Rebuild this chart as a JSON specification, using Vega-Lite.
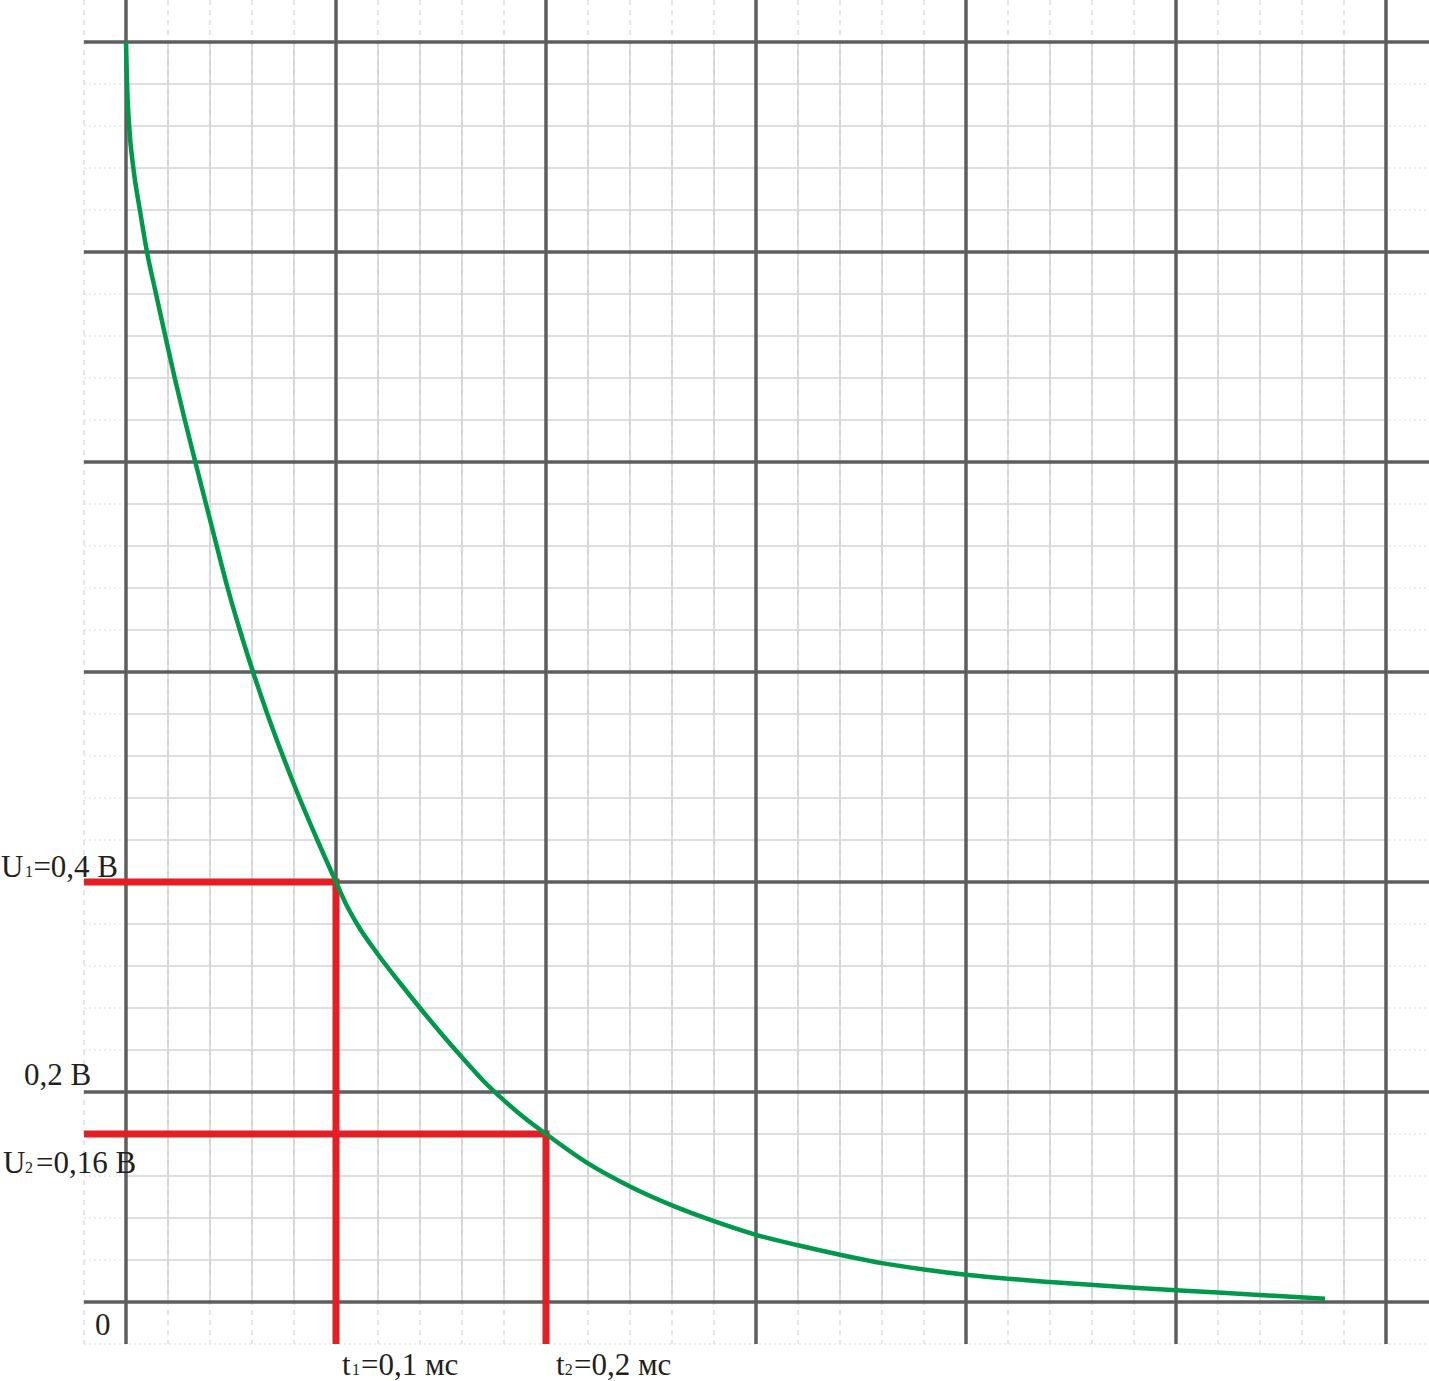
{
  "$schema": "https://vega.github.io/schema/vega-lite/v6.json",
  "width": 1429,
  "height": 1381,
  "autosize": {"type": "none"},
  "padding": 0,
  "background": "white",
  "config": {"view": {"stroke": null}},
  "datasets": {
    "minorT": [{"t":0.02},{"t":0.04},{"t":0.06},{"t":0.08},{"t":0.12},{"t":0.14},{"t":0.16},{"t":0.18},{"t":0.22},{"t":0.24},{"t":0.26},{"t":0.28},{"t":0.32},{"t":0.34},{"t":0.36},{"t":0.38},{"t":0.42},{"t":0.44},{"t":0.46},{"t":0.48},{"t":0.52},{"t":0.54},{"t":0.56},{"t":0.58}],
    "edgeT": [{"t":-0.02}],
    "minorU": [{"u":0.04},{"u":0.08},{"u":0.12},{"u":0.16},{"u":0.24},{"u":0.28},{"u":0.32},{"u":0.36},{"u":0.44},{"u":0.48},{"u":0.52},{"u":0.56},{"u":0.64},{"u":0.68},{"u":0.72},{"u":0.76},{"u":0.84},{"u":0.88},{"u":0.92},{"u":0.96},{"u":1.04},{"u":1.08},{"u":1.12},{"u":1.16}],
    "edgeU": [{"u":-0.04}],
    "majorT": [{"t":0},{"t":0.1},{"t":0.2},{"t":0.3},{"t":0.4},{"t":0.5},{"t":0.6}],
    "majorU": [{"u":0},{"u":0.2},{"u":0.4},{"u":0.6},{"u":0.8},{"u":1.0},{"u":1.2}],
    "marks": [
      {"s":"a","i":0,"t":-0.02,"u":0.4},{"s":"a","i":1,"t":0.1,"u":0.4},{"s":"a","i":2,"t":0.1,"u":-0.04},
      {"s":"b","i":0,"t":-0.02,"u":0.16},{"s":"b","i":1,"t":0.2,"u":0.16},{"s":"b","i":2,"t":0.2,"u":-0.04}
    ],
    "curve": [
      {"t":0,"u":1.2},{"t":0.0005,"u":1.16},{"t":0.0015,"u":1.12},{"t":0.0035,"u":1.08},{"t":0.0066,"u":1.04},
      {"t":0.0100,"u":1.0},{"t":0.0143,"u":0.96},{"t":0.0187,"u":0.92},{"t":0.0232,"u":0.88},{"t":0.0280,"u":0.84},
      {"t":0.0330,"u":0.8},{"t":0.0381,"u":0.76},{"t":0.0432,"u":0.72},{"t":0.0484,"u":0.68},{"t":0.0542,"u":0.64},
      {"t":0.0605,"u":0.6},{"t":0.0673,"u":0.56},{"t":0.0747,"u":0.52},{"t":0.0826,"u":0.48},{"t":0.0911,"u":0.44},
      {"t":0.1,"u":0.4},{"t":0.105,"u":0.378},{"t":0.11,"u":0.36},{"t":0.12,"u":0.331},{"t":0.13,"u":0.305},
      {"t":0.14,"u":0.28},{"t":0.15,"u":0.256},{"t":0.16,"u":0.233},{"t":0.17,"u":0.211},{"t":0.18,"u":0.192},
      {"t":0.19,"u":0.175},{"t":0.2,"u":0.16},{"t":0.22,"u":0.132},{"t":0.24,"u":0.11},{"t":0.26,"u":0.092},
      {"t":0.28,"u":0.077},{"t":0.3,"u":0.064},{"t":0.32,"u":0.054},{"t":0.34,"u":0.045},{"t":0.36,"u":0.037},
      {"t":0.38,"u":0.031},{"t":0.4,"u":0.026},{"t":0.44,"u":0.019},{"t":0.48,"u":0.0135},{"t":0.52,"u":0.009},
      {"t":0.571,"u":0.003}
    ],
    "labels": [
      {"label":"U","t":-0.0595,"u":0.4048},
      {"label":"=0,4 В","t":-0.0441,"u":0.4048},
      {"label":"0,2 В","t":-0.0486,"u":0.2067},
      {"label":"U","t":-0.0586,"u":0.1229},
      {"label":"=0,16 В","t":-0.0429,"u":0.1229},
      {"label":"0","t":-0.0148,"u":-0.0314},
      {"label":"t","t":0.1029,"u":-0.0695},
      {"label":"=0,1 мс","t":0.1119,"u":-0.0695},
      {"label":"t","t":0.2048,"u":-0.0695},
      {"label":"=0,2 мс","t":0.2133,"u":-0.0695}
    ],
    "subs": [
      {"label":"1","t":-0.0481,"u":0.4048},
      {"label":"2","t":-0.0481,"u":0.1229},
      {"label":"1","t":0.1076,"u":-0.0695},
      {"label":"2","t":0.2089,"u":-0.0695}
    ]
  },
  "layer": [
    {
      "data": {"name": "minorT"},
      "mark": {"type": "rule", "color": "#d6d6d6", "strokeWidth": 1.2, "strokeDash": [5, 5]},
      "encoding": {
        "x": {"field": "t", "type": "quantitative", "scale": {"domain": [-0.06, 0.62048], "nice": false, "zero": false}, "axis": null},
        "y": {"datum": 1.24, "type": "quantitative", "scale": {"domain": [-0.07524, 1.24], "nice": false, "zero": false}, "axis": null},
        "y2": {"datum": -0.04}
      }
    },
    {
      "data": {"name": "edgeT"},
      "mark": {"type": "rule", "color": "#d6d6d6", "strokeWidth": 1.2, "strokeDash": [5, 5]},
      "encoding": {
        "x": {"field": "t", "type": "quantitative"},
        "y": {"datum": 1.24, "type": "quantitative"},
        "y2": {"datum": -0.04}
      }
    },
    {
      "data": {"name": "minorU"},
      "mark": {"type": "rule", "color": "#dcdcdc", "strokeWidth": 1.2, "strokeDash": [2, 3]},
      "encoding": {
        "y": {"field": "u", "type": "quantitative"},
        "x": {"datum": -0.02, "type": "quantitative"},
        "x2": {"datum": 0.62048}
      }
    },
    {
      "data": {"name": "edgeU"},
      "mark": {"type": "rule", "color": "#dcdcdc", "strokeWidth": 1.2, "strokeDash": [2, 3]},
      "encoding": {
        "y": {"field": "u", "type": "quantitative"},
        "x": {"datum": -0.02, "type": "quantitative"},
        "x2": {"datum": 0.62048}
      }
    },
    {
      "data": {"name": "minorT"},
      "mark": {"type": "rule", "color": "#cbcbcb", "strokeWidth": 1.3},
      "encoding": {
        "x": {"field": "t", "type": "quantitative"},
        "y": {"datum": 1.2, "type": "quantitative"},
        "y2": {"datum": 0}
      }
    },
    {
      "data": {"name": "minorU"},
      "mark": {"type": "rule", "color": "#d6d6d6", "strokeWidth": 1.3},
      "encoding": {
        "y": {"field": "u", "type": "quantitative"},
        "x": {"datum": 0, "type": "quantitative"},
        "x2": {"datum": 0.6}
      }
    },
    {
      "data": {"name": "majorT"},
      "mark": {"type": "rule", "color": "#5e5e5e", "strokeWidth": 3.5},
      "encoding": {
        "x": {"field": "t", "type": "quantitative"},
        "y": {"datum": 1.24, "type": "quantitative"},
        "y2": {"datum": -0.04}
      }
    },
    {
      "data": {"name": "majorU"},
      "mark": {"type": "rule", "color": "#5e5e5e", "strokeWidth": 3.5},
      "encoding": {
        "y": {"field": "u", "type": "quantitative"},
        "x": {"datum": -0.02, "type": "quantitative"},
        "x2": {"datum": 0.62048}
      }
    },
    {
      "data": {"name": "marks"},
      "mark": {"type": "line", "color": "#e31e24", "strokeWidth": 7, "strokeJoin": "miter", "strokeCap": "butt"},
      "encoding": {
        "x": {"field": "t", "type": "quantitative"},
        "y": {"field": "u", "type": "quantitative"},
        "detail": {"field": "s"},
        "order": {"field": "i"}
      }
    },
    {
      "data": {"name": "curve"},
      "mark": {"type": "line", "color": "#00984a", "strokeWidth": 4.5, "interpolate": "monotone"},
      "encoding": {
        "x": {"field": "t", "type": "quantitative"},
        "y": {"field": "u", "type": "quantitative"}
      }
    },
    {
      "data": {"name": "labels"},
      "mark": {"type": "text", "align": "left", "baseline": "alphabetic", "font": "Liberation Serif", "fontSize": 31, "color": "#231f20"},
      "encoding": {
        "x": {"field": "t", "type": "quantitative"},
        "y": {"field": "u", "type": "quantitative"},
        "text": {"field": "label"}
      }
    },
    {
      "data": {"name": "subs"},
      "mark": {"type": "text", "align": "left", "baseline": "alphabetic", "font": "Liberation Serif", "fontSize": 16, "color": "#231f20"},
      "encoding": {
        "x": {"field": "t", "type": "quantitative"},
        "y": {"field": "u", "type": "quantitative"},
        "text": {"field": "label"}
      }
    }
  ]
}
